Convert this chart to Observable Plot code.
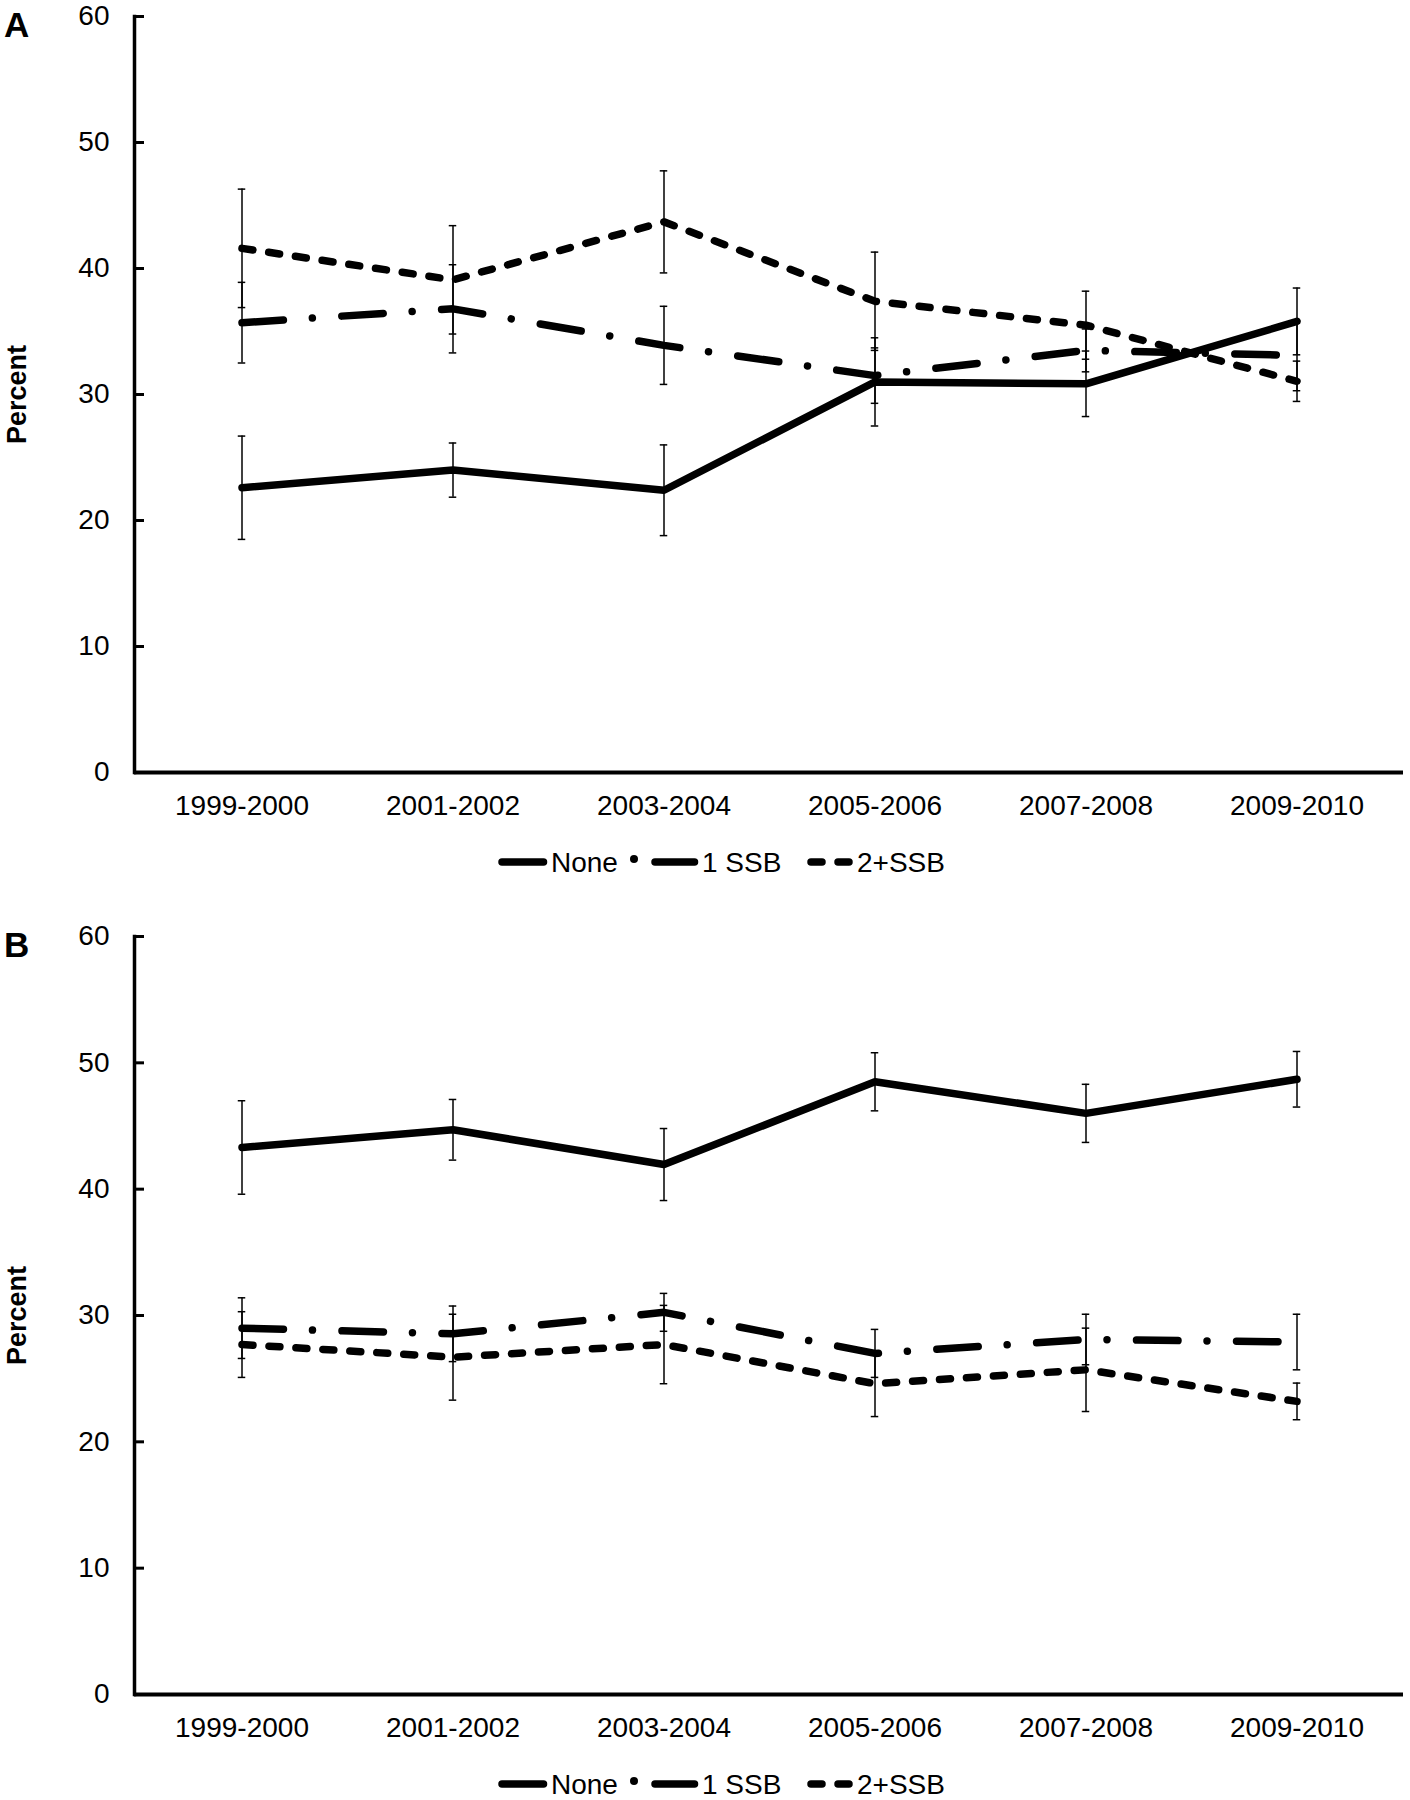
<!DOCTYPE html>
<html>
<head>
<meta charset="utf-8">
<script src="https://cdn.jsdelivr.net/npm/d3@7"></script>
<script src="https://cdn.jsdelivr.net/npm/@observablehq/plot@0.6"></script>
<style>
  html, body { margin: 0; padding: 0; background: #fff; }
  #page { position: relative; width: 1410px; height: 1800px; overflow: hidden; background: #fff;
          font-family: "Liberation Sans", Arial, sans-serif; }
  .panel { position: absolute; left: 0; }
  #overlay { position: absolute; left: 0; top: 0; pointer-events: none; }
  g[aria-label="y-axis label"] text { font-weight: bold; font-size: 27px; }
</style>
</head>
<body>
<div id="page">
  <div id="panelA" class="panel" style="top:0px"></div>
  <div id="panelB" class="panel" style="top:920px"></div>
</div>
<script>
// ---------- data ----------
const periods = ["1999-2000", "2001-2002", "2003-2004", "2005-2006", "2007-2008", "2009-2010"];
const yTicks = [0, 10, 20, 30, 40, 50, 60];
const seriesNames = ["None", "1 SSB", "2+SSB"];
const panelLabels = ["A", "B"];

// Panel A
const aNone    = [22.6, 24.0, 22.4, 31.0, 30.85, 35.8];
const aNoneErr = [4.1, 2.15, 3.6, 3.5, 2.6, 2.65];
const aOne     = [35.7, 36.8, 33.9, 31.5, 33.5, 33.1];
const aOneErr  = [3.2, 3.5, 3.1, 2.2, 1.7, 2.8];
const aTwo     = [41.6, 39.1, 43.7, 37.4, 35.5, 31.05];
const aTwoErr  = [4.7, 4.3, 4.05, 3.9, 2.7, 1.6];

// Panel B
const bNone    = [43.3, 44.7, 41.95, 48.5, 46.0, 48.7];
const bNoneErr = [3.7, 2.4, 2.85, 2.3, 2.3, 2.2];
const bOne     = [29.0, 28.55, 30.25, 27.0, 28.1, 27.9];
const bOneErr  = [2.4, 2.2, 1.5, 1.9, 2.0, 2.2];
const bTwo     = [27.7, 26.7, 27.7, 24.6, 25.7, 23.2];
const bTwoErr  = [2.6, 3.4, 3.1, 2.6, 3.3, 1.45];

// ---------- styles ----------
const FONT = '"Liberation Sans", Arial, sans-serif';
const LINE_W = 7.5;
const dashes = { "None": null, "1 SSB": "41.5,29,0.01,29.5", "2+SSB": "11,16" };

function buildRows(series) {
  const rows = [];
  series.forEach(([name, vals, errs]) => {
    vals.forEach((v, i) => rows.push({ series: name, period: periods[i], value: v, err: errs[i] }));
  });
  return rows;
}

function panel(series, height) {
  const rows = buildRows(series);
  const width = 1410, marginLeft = 134, marginRight = 7;
  const band = (width - marginLeft - marginRight) / periods.length;
  const capInset = (band - 8) / 2;
  const lineMarks = seriesNames.map(name => Plot.line(rows.filter(d => d.series === name), {
    x: "period", y: "value", stroke: "black", strokeWidth: LINE_W,
    strokeLinecap: "round", strokeLinejoin: "round",
    strokeDasharray: dashes[name] || undefined
  }));
  return Plot.plot({
    width, height,
    marginTop: 16, marginLeft, marginRight, marginBottom: 58,
    style: { fontFamily: FONT, fontSize: "28px", color: "black", background: "white", overflow: "visible" },
    x: { type: "band", domain: periods, padding: 0, label: null },
    y: { domain: [0, 60], label: "Percent" },
    marks: [
      Plot.axisX({ tickSize: 0, tickPadding: 23, fontSize: 28, label: null }),
      Plot.axisY(yTicks, { tickSize: 0, tickPadding: 25, fontSize: 28, label: "Percent",
        labelAnchor: "center", labelArrow: "none", labelOffset: 128 }),
      Plot.axisY(yTicks, { tickSize: -10, text: null, strokeWidth: 3, label: null }),
      Plot.ruleY([0], { stroke: "black", strokeWidth: 4 }),
      Plot.frame({ anchor: "left", stroke: "black", strokeWidth: 3.5 }),
      ...lineMarks,
      Plot.ruleX(rows, { x: "period", y1: d => d.value - d.err, y2: d => d.value + d.err,
        stroke: "black", strokeWidth: 1.5 }),
      Plot.tickY(rows, { x: "period", y: d => d.value + d.err, insetLeft: capInset, insetRight: capInset,
        stroke: "black", strokeWidth: 1.5 }),
      Plot.tickY(rows, { x: "period", y: d => d.value - d.err, insetLeft: capInset, insetRight: capInset,
        stroke: "black", strokeWidth: 1.5 })
    ]
  });
}

document.getElementById("panelA").append(panel([
  ["None", aNone, aNoneErr], ["1 SSB", aOne, aOneErr], ["2+SSB", aTwo, aTwoErr]
], 830));
document.getElementById("panelB").append(panel([
  ["None", bNone, bNoneErr], ["1 SSB", bOne, bOneErr], ["2+SSB", bTwo, bTwoErr]
], 832));

// ---------- overlay: panel letters and legends ----------
const svg = d3.select("#page").append("svg")
  .attr("id", "overlay").attr("width", 1410).attr("height", 1800)
  .style("font-family", FONT);

[[panelLabels[0], 37], [panelLabels[1], 957]].forEach(([t, y]) => {
  svg.append("text").attr("x", 4).attr("y", y).attr("font-size", 35).attr("font-weight", "bold")
    .attr("fill", "black").text(t);
});

function legend(cy) {
  const g = svg.append("g").attr("transform", `translate(0,${cy})`);
  const ln = (x1, x2, dash) => g.append("line").attr("x1", x1).attr("x2", x2).attr("y1", 0).attr("y2", 0)
    .attr("stroke", "black").attr("stroke-width", LINE_W).attr("stroke-linecap", "round")
    .attr("stroke-dasharray", dash);
  const tx = (x, t) => g.append("text").attr("x", x).attr("y", 0).attr("dy", "0.35em")
    .attr("font-size", 28).attr("fill", "black").text(t);
  ln(502, 543.5);
  tx(551, seriesNames[0]);
  g.append("circle").attr("cx", 634).attr("cy", -3).attr("r", 4).attr("fill", "black");
  ln(655, 694.5);
  tx(702, seriesNames[1]);
  ln(811, 850, "11,16");
  tx(857, seriesNames[2]);
}
legend(862);
legend(1784);
</script>
</body>
</html>
